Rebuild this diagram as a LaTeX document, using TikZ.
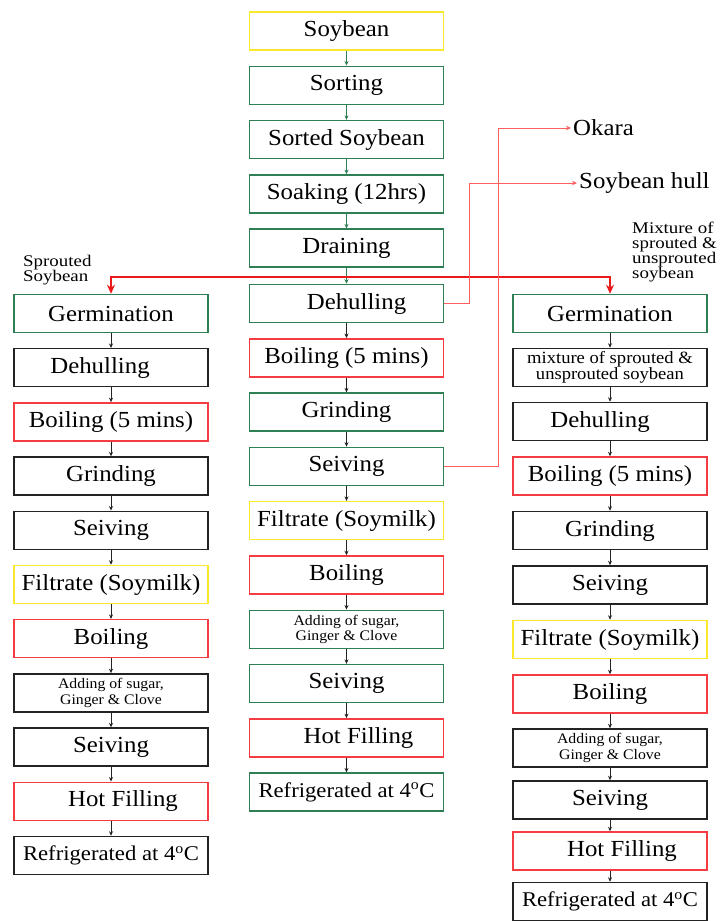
\documentclass[tikz,border=0pt]{standalone}
\usepackage{fontspec}
\setmainfont{Liberation Serif}[FakeStretch=1.08]
\newfontfamily\widefont{Liberation Serif}[FakeStretch=1.16]
\usetikzlibrary{arrows.meta}
\definecolor{bgreen}{RGB}{46,128,84}
\definecolor{bred}{RGB}{245,60,65}
\definecolor{byellow}{RGB}{250,232,45}
\definecolor{bblack}{RGB}{35,35,35}
\definecolor{lred}{RGB}{255,95,95}
\definecolor{sred}{RGB}{235,25,25}
\newcommand\bigtxt{\fontsize{23}{25}\selectfont}
\newcommand\reftxt{\fontsize{21}{24}\selectfont}
\newcommand\smtxt{\fontsize{14.6}{15.5}\selectfont}
\newcommand\mixtxt{\fontsize{17.2}{16.5}\selectfont}
\newcommand\labtxt{\widefont\fontsize{16.3}{15}\selectfont}
\begin{document}
\begin{tikzpicture}[x=1pt,y=-1pt,
  box/.style={draw, minimum width=194pt, minimum height=38pt, inner sep=0pt, line width=1.5pt, font=\bigtxt, align=center},
  gbox/.style={box, draw=bgreen},
  rbox/.style={box, draw=bred},
  ybox/.style={box, draw=byellow},
  kbox/.style={box, draw=bblack},
  arr/.style={-{Stealth[length=4.5pt,width=4pt]}, line width=0.7pt, draw=bblack},
  garr/.style={arr, draw=bgreen},
  splitline/.style={-{Stealth[length=9pt,width=8pt]}, line width=1.6pt, draw=sred},
  sideline/.style={-{Stealth[length=5pt,width=4.5pt]}, line width=0.8pt, draw=lred},
  lab/.style={anchor=north west, align=left, inner sep=0pt, font=\labtxt}
]
\path[use as bounding box, fill=white] (0,0) rectangle (721,921);

% centre column
\node[ybox] (c1)  at (346.5,31)    {Soybean};
\node[gbox] (c2)  at (346.5,85.3)  {Sorting};
\node[gbox] (c3)  at (346.5,139.6) {Sorted Soybean};
\node[gbox] (c4)  at (346.5,193.9) {Soaking (12hrs)};
\node[gbox] (c5)  at (346.5,248.2) {Draining};
\node[gbox] (c6)  at (346.5,303.5) {\hspace*{20pt}Dehulling};
\node[rbox] (c7)  at (346.5,357.8) {Boiling (5 mins)};
\node[gbox] (c8)  at (346.5,412.1) {Grinding};
\node[gbox] (c9)  at (346.5,466.4) {Seiving};
\node[ybox] (c10) at (346.5,520.7) {Filtrate (Soymilk)};
\node[rbox] (c11) at (346.5,575)   {Boiling};
\node[gbox, font=\smtxt] (c12) at (346.5,629.3) {Adding of sugar,\\Ginger \& Clove};
\node[gbox] (c13) at (346.5,683.6) {Seiving};
\node[rbox] (c14) at (346.5,737.9) {\hspace*{24pt}Hot Filling};
\node[gbox, font=\reftxt] (c15) at (346.5,792.2) {Refrigerated at 4\textsuperscript{o}C};

\foreach \a/\b in {c1/c2,c2/c3,c3/c4,c4/c5,c5/c6}
  \draw[garr] (\a) -- (\b);
\foreach \a/\b in {c6/c7,c7/c8,c8/c9,c9/c10,c10/c11,c11/c12,c12/c13,c13/c14,c14/c15}
  \draw[arr] (\a) -- (\b);

% left column
\node[gbox] (l1)  at (111,313.5) {Germination};
\node[kbox] (l2)  at (111,367.7) {Dehulling\hspace*{22pt}};
\node[rbox] (l3)  at (111,421.9) {Boiling (5 mins)};
\node[kbox] (l4)  at (111,476.1) {Grinding};
\node[kbox] (l5)  at (111,530.3) {Seiving};
\node[ybox] (l6)  at (111,584.5) {Filtrate (Soymilk)};
\node[rbox] (l7)  at (111,638.7) {Boiling};
\node[kbox, font=\smtxt] (l8) at (111,692.9) {Adding of sugar,\\Ginger \& Clove};
\node[kbox] (l9)  at (111,747.1) {Seiving};
\node[rbox] (l10) at (111,801.3) {\hspace*{24pt}Hot Filling};
\node[kbox, font=\reftxt] (l11) at (111,855.5) {Refrigerated at 4\textsuperscript{o}C};
\foreach \a/\b in {l1/l2,l2/l3,l3/l4,l4/l5,l5/l6,l6/l7,l7/l8,l8/l9,l9/l10,l10/l11}
  \draw[arr] (\a) -- (\b);

% right column
\node[gbox] (r1)  at (610,313.5) {Germination};
\node[kbox, font=\mixtxt] (r2) at (610,367.5) {mixture of sprouted \&\\unsprouted soybean};
\node[kbox] (r3)  at (610,421.5) {Dehulling\hspace*{20pt}};
\node[rbox] (r4)  at (610,476)   {Boiling (5 mins)};
\node[kbox] (r5)  at (610,530.5) {Grinding};
\node[kbox] (r6)  at (610,585)   {Seiving};
\node[ybox] (r7)  at (610,639.5) {Filtrate (Soymilk)};
\node[rbox] (r8)  at (610,694)   {Boiling};
\node[kbox, font=\smtxt] (r9) at (610,748) {Adding of sugar,\\Ginger \& Clove};
\node[kbox] (r10) at (610,800)   {Seiving};
\node[rbox] (r11) at (610,851)   {\hspace*{24pt}Hot Filling};
\node[kbox, font=\reftxt] (r12) at (610,901.5) {Refrigerated at 4\textsuperscript{o}C};
\foreach \a/\b in {r1/r2,r2/r3,r3/r4,r4/r5,r5/r6,r6/r7,r7/r8,r8/r9,r9/r10,r10/r11,r11/r12}
  \draw[arr] (\a) -- (\b);

% red split to the two germination branches
\coordinate (split) at (346.5,277);
\draw[splitline] (split) -| (l1.north);
\draw[splitline] (split) -| (r1.north);

% by-products
\node[anchor=west, inner sep=2pt, font=\bigtxt] (okara) at (571,128) {Okara};
\node[anchor=west, inner sep=2pt, font=\bigtxt] (hull) at (577,183) {Soybean hull};
\draw[sideline] (c9.east) -- ++(54,0) |- (okara.west);
\draw[sideline] (c6.east) -- ++(25,0) |- (hull.west);

% labels
\node[lab] (sproutlab) at (23,255) {Sprouted\\Soybean};
\node[lab] (mixlab) at (632,222) {Mixture of\\sprouted \&\\unsprouted\\soybean};
\end{tikzpicture}
\end{document}
